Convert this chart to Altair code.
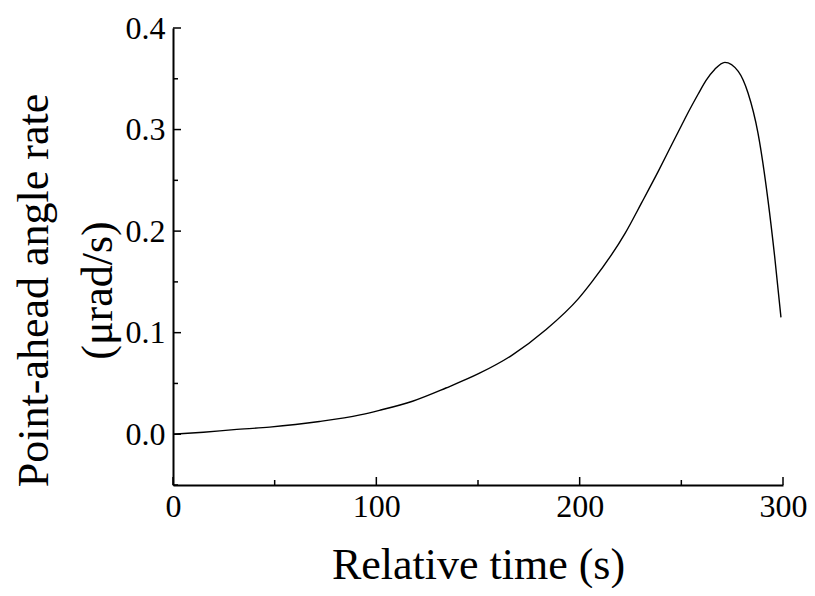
import altair as alt
import pandas as pd

# curve
time_s = [0, 15, 30, 47.5, 72, 92, 101.5, 117.8, 134.2, 150.5, 166.8, 183.2, 199.5,
          206, 222.4, 230.5, 238.7, 245, 250.2, 253.4, 258.3, 262, 266.5, 271.4, 278,
          282.8, 287.7, 292.6, 295.9, 299]
rate = [0.0, 0.002, 0.0045, 0.007, 0.0125, 0.019, 0.0235, 0.0325, 0.0455, 0.0598,
        0.0779, 0.1026, 0.1338, 0.150, 0.198, 0.228, 0.259, 0.284, 0.3045, 0.317,
        0.335, 0.348, 0.3595, 0.3662, 0.3573, 0.336, 0.2965, 0.2308, 0.175, 0.115]

x_major = [0, 100, 200, 300]
x_minor = [50, 150, 250]
y_major = [0.0, 0.1, 0.2, 0.3, 0.4]
y_minor = [-0.05, 0.05, 0.15, 0.25, 0.35]

W, H = 610, 457
FONT = "Liberation Serif"

xs = alt.Scale(domain=[0, 300], nice=False, zero=False)
ys = alt.Scale(domain=[-0.05, 0.4], nice=False, zero=False)

x_axis = alt.Axis(
    values=x_major, format="d", title="Relative time (s)",
    labelFont=FONT, labelFontSize=32, labelColor="black", labelPadding=6,
    labelFlush=False, labelOverlap=False,
    tickSize=0, domainColor="black", domainWidth=2, grid=False,
    titleFont=FONT, titleFontSize=44, titleFontWeight="normal", titleColor="black",
    titleBaseline="alphabetic", titleY=93, titleX=W / 2)
y_axis = alt.Axis(
    values=y_major, format=".1f",
    title=["Point-ahead angle rate", "(μrad/s)"],
    labelFont=FONT, labelFontSize=32, labelColor="black", labelPadding=8,
    labelFlush=False, labelOverlap=False,
    tickSize=0, domainColor="black", domainWidth=2, grid=False,
    titleFont=FONT, titleFontSize=44, titleFontWeight="normal", titleColor="black",
    titleAngle=270, titleBaseline="top", titleAlign="center",
    titleX=-161, titleY=262, titleLineHeight=64)

df = pd.DataFrame({"t": time_s, "v": rate})

line = alt.Chart(df).mark_line(color="black", strokeWidth=1.4, interpolate="monotone").encode(
    x=alt.X("t:Q", scale=xs, axis=x_axis),
    y=alt.Y("v:Q", scale=ys, axis=y_axis),
)

xmaj = alt.Chart(pd.DataFrame({"t": x_major})).mark_rule(color="black", strokeWidth=1.5).encode(
    x=alt.X("t:Q", scale=xs, axis=x_axis), y=alt.value(H), y2=alt.value(H - 8))
xmin = alt.Chart(pd.DataFrame({"t": x_minor})).mark_rule(color="black", strokeWidth=1.5).encode(
    x=alt.X("t:Q", scale=xs, axis=x_axis), y=alt.value(H), y2=alt.value(H - 5))
ymaj = alt.Chart(pd.DataFrame({"v": y_major})).mark_rule(color="black", strokeWidth=1.5).encode(
    y=alt.Y("v:Q", scale=ys, axis=y_axis), x=alt.value(0), x2=alt.value(8))
ymin = alt.Chart(pd.DataFrame({"v": y_minor})).mark_rule(color="black", strokeWidth=1.5).encode(
    y=alt.Y("v:Q", scale=ys, axis=y_axis), x=alt.value(0), x2=alt.value(5))

chart = alt.layer(line, xmaj, xmin, ymaj, ymin).properties(
    width=W, height=H,
    autosize=alt.AutoSizeParams(type="none"),
    padding={"left": 165, "top": 20, "right": 24, "bottom": 103},
    background="white",
).configure_view(stroke=None)

chart.save("out.html", embed_options={"renderer": "svg", "actions": False})
